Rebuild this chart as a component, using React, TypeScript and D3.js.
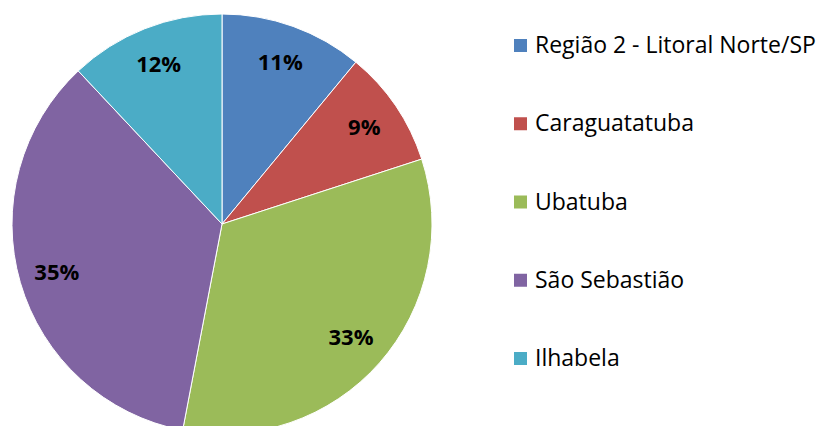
import * as d3 from "d3";
import { useEffect, useRef } from "react";

const categories = ["Região 2 - Litoral Norte/SP", "Caraguatatuba", "Ubatuba", "São Sebastião", "Ilhabela"];
const values = [11, 9, 33, 35, 12];
const colors = ["#4F81BD", "#C0504D", "#9BBB59", "#8064A2", "#4BACC6"];

export default function App() {
    const svgRef = useRef<SVGSVGElement>(null);
    const width = 823;
    const height = 426;
    const cx = 222;
    const cy = 224;
    const radius = 210;

    useEffect(() => {
        if (svgRef.current) {
            drawChart();
        }
    }, [svgRef]);

    const drawChart = () => {
        const svg = d3.select(svgRef.current);
        svg.selectAll("*").remove();

        const pie = d3.pie<number>().sort(null).value((d) => d);
        const arcs = pie(values);
        const arc = d3.arc<d3.PieArcDatum<number>>().innerRadius(0).outerRadius(radius);
        const labelArc = d3.arc<d3.PieArcDatum<number>>().innerRadius(172).outerRadius(172);

        const chart = svg.append("g").attr("transform", "translate(" + cx + "," + cy + ")");

        // slices
        chart
            .selectAll("path")
            .data(arcs)
            .enter()
            .append("path")
            .attr("d", arc)
            .attr("fill", (d, i) => colors[i])
            .attr("stroke", "#ffffff")
            .attr("stroke-width", 1);

        // percent labels
        const total = d3.sum(values);
        chart
            .selectAll("text")
            .data(arcs)
            .enter()
            .append("text")
            .attr("transform", (d) => "translate(" + labelArc.centroid(d) + ")")
            .attr("text-anchor", "middle")
            .attr("dy", "0.35em")
            .style("font-family", "'Open Sans', sans-serif")
            .style("font-weight", "bold")
            .style("font-size", "22px")
            .attr("fill", "#000000")
            .text((d) => Math.round((d.data / total) * 100) + "%");

        // legend
        const legendY = d3.scalePoint<string>().domain(categories).range([45, 358]);
        const legend = svg
            .append("g")
            .selectAll("g")
            .data(categories)
            .enter()
            .append("g")
            .attr("transform", (d) => "translate(514," + legendY(d) + ")");
        legend
            .append("rect")
            .attr("x", 0)
            .attr("y", -6)
            .attr("width", 13)
            .attr("height", 13)
            .attr("fill", (d, i) => colors[i]);
        legend
            .append("text")
            .attr("x", 21)
            .attr("dy", "0.35em")
            .style("font-family", "'Open Sans', sans-serif")
            .style("font-size", "23px")
            .attr("fill", "#000000")
            .text((d) => d);
    };

    return (
        <svg
            ref={svgRef}
            width={width}
            height={height}
            style={{ position: "absolute", left: 0, top: 0, background: "#ffffff" }}
        />
    );
}
